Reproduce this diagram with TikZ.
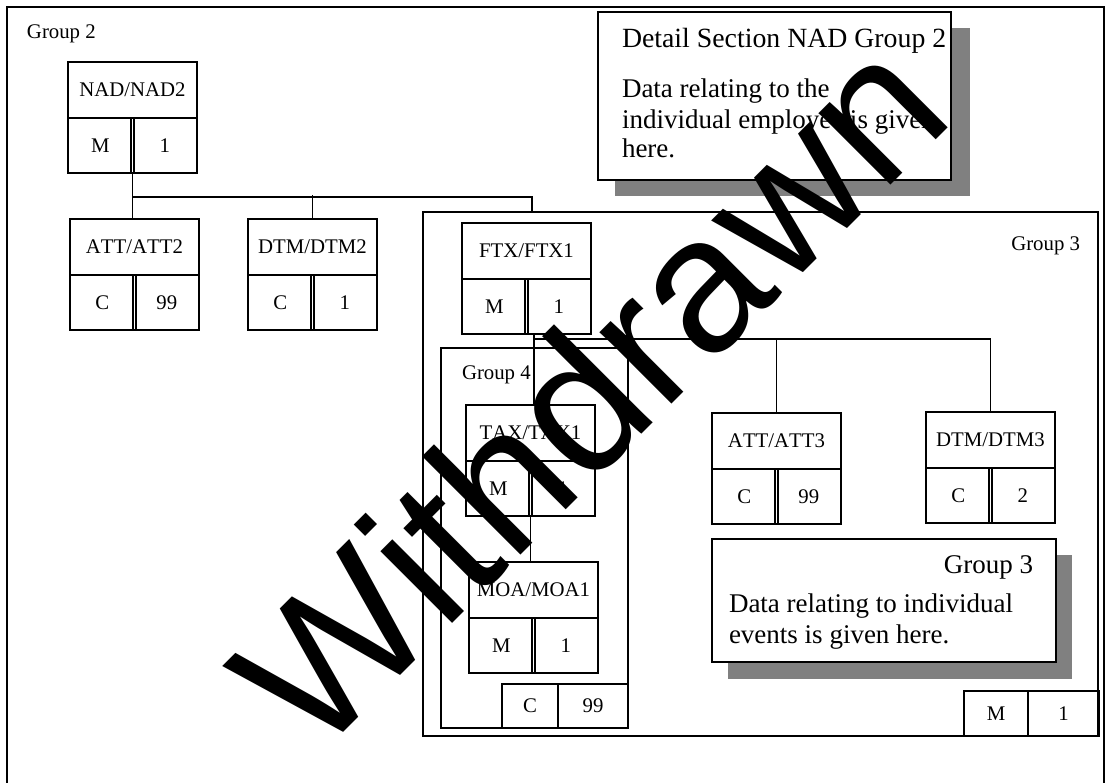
\documentclass[tikz,border=0pt]{standalone}
\usepackage{fontspec}
\setmainfont[Kerning=Off]{Liberation Serif}
\newfontfamily\wmfont{Liberation Sans}
\newcommand\recbox[6]{%
  \node[box, minimum width=129pt, minimum height=56pt] (#1) at (#2+64.5,#3+28) {#4};
  \node[box, minimum width=129pt, minimum height=55pt] (#1B) at (#2+64.5,#3+83.5) {};
  \node[txt] (#1L) at (#2+32.25,#3+83.5) {#5};
  \node[txt] (#1R) at (#2+96.75,#3+83.5) {#6};
  \draw ([xshift=-1.5pt]#1B.north) -- ([xshift=-1.5pt]#1B.south);
  \draw ([xshift=1.5pt]#1B.north) -- ([xshift=1.5pt]#1B.south);
}
\begin{document}
\begin{tikzpicture}[x=1pt,y=-1pt,line width=1.3pt,
  box/.style={draw, inner sep=0pt, outer sep=0pt, font=\fontsize{20.8}{24}\selectfont},
  txt/.style={inner sep=0pt, outer sep=0pt, font=\fontsize{20.8}{24}\selectfont},
  cmt/.style={inner sep=0pt, outer sep=0pt, font=\fontsize{27}{30}\selectfont},
  shade/.style={fill=black!50, draw=none},
  grp/.style={draw, inner sep=0pt, outer sep=0pt}]
\useasboundingbox (0,0) rectangle (1111,782);
\fill[white] (0,0) rectangle (1111,782);
% outer frame
\draw[line width=2pt] (7,790) -- (7,7) -- (1104,7) -- (1104,790);
\node[txt, anchor=base west] (lg2) at (27,38) {Group 2};
% group 3 and 4 frames
\node[grp, line width=1.5pt, minimum width=675pt, minimum height=524pt] (g3) at (760.5,474) {};
\node[grp, minimum width=187pt, minimum height=380pt] (g4) at (534.5,538) {};
\node[txt, anchor=base east] (lg3) at (1080,250) {Group 3};
\node[txt, anchor=base west] (lg4) at (462,379) {Group 4};
% record boxes
\recbox{nad}{68}{62}{NAD/NAD2}{M}{1}
\recbox{atta}{70}{219}{ATT/ATT2}{C}{99}
\recbox{dtma}{248}{219}{DTM/DTM2}{C}{1}
\recbox{ftx}{462}{223}{FTX/FTX1}{M}{1}
\recbox{tax}{466}{405}{TAX/TAX1}{M}{1}
\recbox{moa}{469}{562}{MOA/MOA1}{M}{1}
\recbox{attb}{712}{413}{ATT/ATT3}{C}{99}
\recbox{dtmb}{926}{412}{DTM/DTM3}{C}{2}
% small boxes
\node[box, minimum width=56pt, minimum height=44pt] (g4c) at (530,706) {C};
\node[box, minimum width=70pt, minimum height=44pt] (g4n) at (593,706) {99};
\node[box, minimum width=64pt, minimum height=45pt] (g3m) at (996,713.5) {M};
\node[box, minimum width=71pt, minimum height=45pt] (g3n) at (1063.5,713.5) {1};
% connectors group 2
\coordinate (bus2) at (532,197);
\draw (nadB.south) -- (nadB.south |- atta.north);
\draw (nadB.south |- bus2) -- (bus2) -- (bus2 |- g3.north);
\draw (dtma.north) -- ([yshift=2pt]dtma.north |- bus2);
% connectors group 3
\coordinate (bus3) at (534,339);
\draw (bus3 |- ftxB.south) -- (bus3 |- tax.north);
\draw (bus3) -- (bus3 -| dtmb.north) -- (dtmb.north);
\draw (bus3 -| attb.north) -- (attb.north);
\draw (taxB.south) -- (taxB.south |- moa.north);
% comment box: detail
\fill[shade] (615,28) rectangle (970,196);
\node[grp, fill=white, minimum width=353pt, minimum height=168pt] (det) at (774.5,96) {};
\node[cmt, anchor=base west, font=\fontsize{27.8}{30}\selectfont] (det1) at (622,47) {Detail Section NAD Group 2};
\node[cmt, anchor=base west] (det2) at (622,97) {Data relating to the};
\node[cmt, anchor=base west] (det3) at (622,128) {individual employee is given};
\node[cmt, anchor=base west] (det4) at (622,157) {here.};
% comment box: group 3
\fill[shade] (728,555) rectangle (1072,679);
\node[grp, fill=white, minimum width=344pt, minimum height=123pt] (gc) at (884,600.5) {};
\node[cmt, anchor=base east] (gc1) at (1033,573) {Group 3};
\node[cmt, anchor=base west] (gc2) at (729,612) {Data relating to individual};
\node[cmt, anchor=base west] (gc3) at (729,643) {events is given here.};
% watermark
\node[inner sep=0pt, font=\wmfont\fontsize{192}{192}\selectfont, rotate=45, anchor=base] (wm) at (636,440) {Withdrawn};
\end{tikzpicture}
\end{document}
